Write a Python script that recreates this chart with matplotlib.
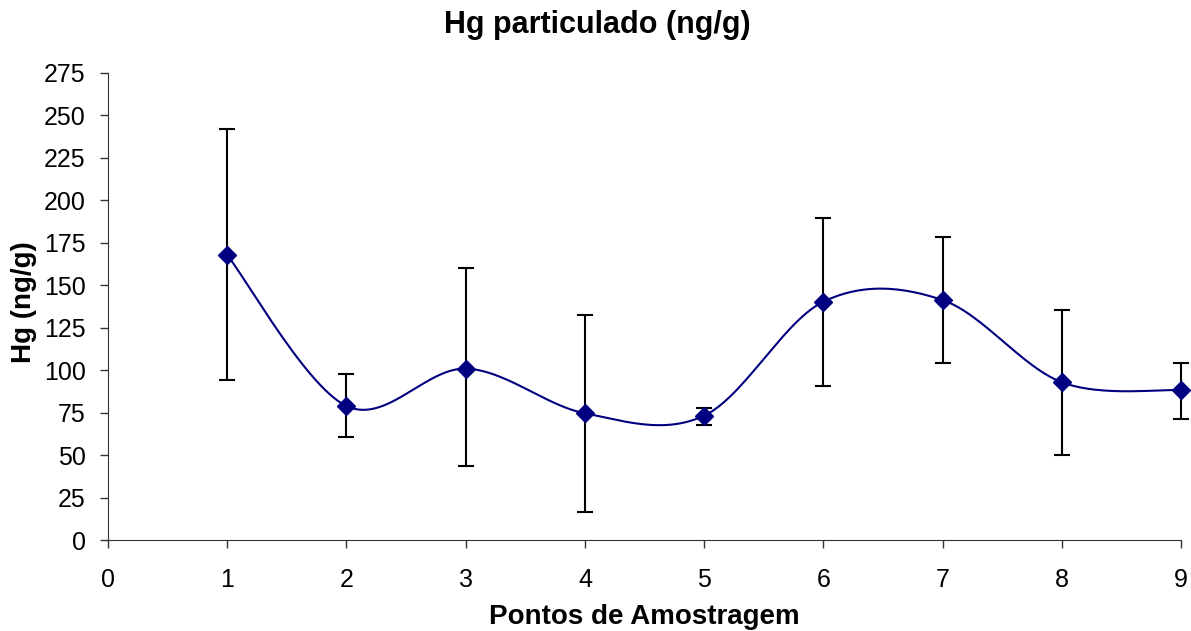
import numpy as np
import matplotlib.pyplot as plt

plt.rcParams['font.family'] = ['Liberation Sans', 'DejaVu Sans']

# sampling points and Hg values (ng/g)
pontos = [1, 2, 3, 4, 5, 6, 7, 8, 9]
hg_mean = [167.8, 78.9, 100.9, 74.6, 73.2, 140.3, 141.3, 92.9, 88.3]
hg_upper = [241.8, 97.6, 160.0, 132.3, 77.7, 189.8, 178.4, 135.5, 104.4]
hg_lower = [94.0, 60.7, 43.4, 16.7, 67.5, 90.5, 104.4, 50.2, 71.1]
y_ticks = list(range(0, 276, 25))
x_ticks = list(range(0, 10))


def smooth_line(x, y, n=30):
    # excel-like smoothed line: catmull-rom as cubic bezier segments
    x = np.asarray(x, float)
    y = np.asarray(y, float)
    px = np.concatenate([[x[0]], x, [x[-1]]])
    py = np.concatenate([[y[0]], y, [y[-1]]])
    t = np.linspace(0, 1, n)
    xs, ys = [], []
    for i in range(1, len(px) - 2):
        p0 = np.array([px[i], py[i]])
        p3 = np.array([px[i + 1], py[i + 1]])
        c1 = p0 + (p3 - np.array([px[i - 1], py[i - 1]])) / 6
        c2 = p3 - (np.array([px[i + 2], py[i + 2]]) - p0) / 6
        b = (np.outer((1 - t) ** 3, p0) + np.outer(3 * (1 - t) ** 2 * t, c1)
             + np.outer(3 * (1 - t) * t ** 2, c2) + np.outer(t ** 3, p3))
        xs.extend(b[:, 0])
        ys.extend(b[:, 1])
    return xs, ys


W, H = 1191, 631
fig = plt.figure(figsize=(W / 100, H / 100), dpi=100)
ax = fig.add_axes([108 / W, (H - 540) / H, (1181 - 108) / W, (540 - 73) / H])

sx, sy = smooth_line(pontos, hg_mean)
ax.plot(sx, sy, color='#000080', lw=1.5, zorder=2)

yerr = [np.array(hg_mean) - np.array(hg_lower), np.array(hg_upper) - np.array(hg_mean)]
ax.errorbar(pontos, hg_mean, yerr=yerr, fmt='none', ecolor='black',
            elinewidth=1.5, capsize=6, capthick=1.5, zorder=3, clip_on=False)
ax.plot(pontos, hg_mean, 'D', color='#000080', markersize=9, zorder=4, clip_on=False)

ax.set_xlim(0, 9)
ax.set_ylim(0, 275)
ax.set_xticks(x_ticks)
ax.set_yticks(y_ticks)
ax.tick_params(axis='both', labelsize=18, length=6, width=1, color='#333333', direction='out')
ax.tick_params(axis='x', pad=14)
ax.tick_params(axis='y', pad=10)
for s in ['top', 'right']:
    ax.spines[s].set_visible(False)
for s in ['left', 'bottom']:
    ax.spines[s].set_color('#333333')

fig.text(597 / W, (H - 33) / H, 'Hg particulado (ng/g)', fontsize=22,
         fontweight='bold', ha='center', va='baseline')
fig.text(644 / W, (H - 624) / H, 'Pontos de Amostragem', fontsize=20,
         fontweight='bold', ha='center', va='baseline')
fig.text(37 / W, (H - 302) / H, 'Hg (ng/g)', fontsize=20, fontweight='bold',
         ha='right', va='center', rotation=90)

fig.savefig('out.png', dpi=100)
